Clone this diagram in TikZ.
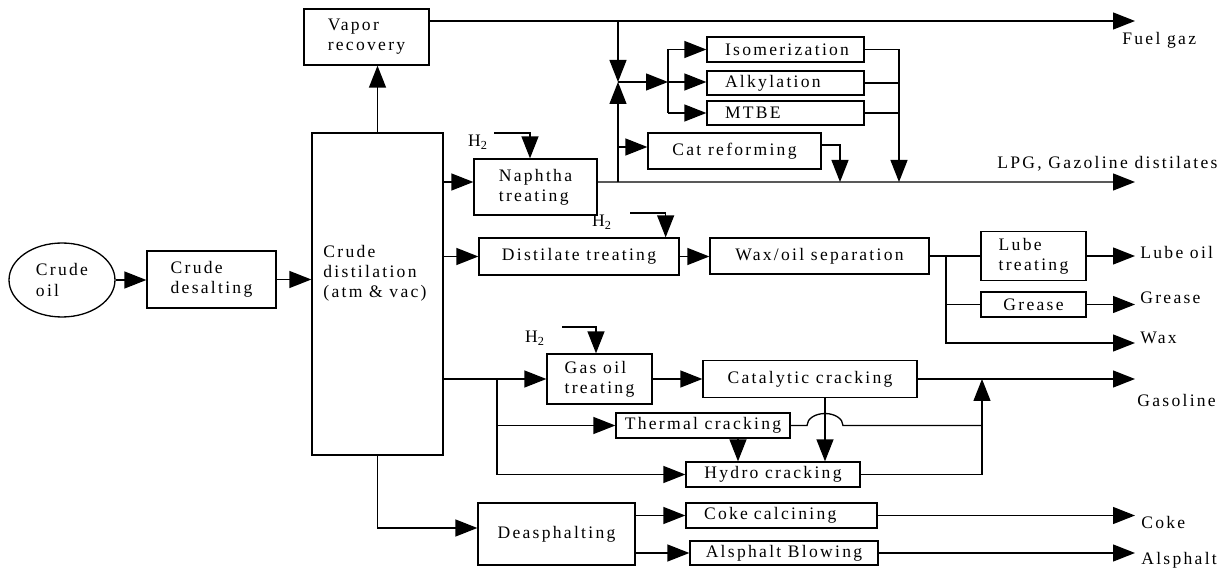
\documentclass[tikz,border=0pt]{standalone}
\usepackage{fontspec}
\setmainfont{Liberation Serif}[LetterSpace=13]
\usepackage{tikz}
\usetikzlibrary{arrows.meta}
\usetikzlibrary{shapes.geometric}
\tikzset{
  unit/.style={draw, line width=0.75pt, inner sep=0pt, align=left, font=\fontsize{10}{11.5}\selectfont},
  unitleft/.style={unit, inner xsep=0.36cm},
  flow/.style={line width=0.75pt, -{Triangle[length=0.44cm,width=0.34cm]}},
  pipe/.style={line width=0.75pt},
  product/.style={anchor=west, inner sep=0pt, font=\fontsize{10}{11.5}\selectfont},
  hlabel/.style={inner sep=0pt, align=left, font=\fontsize{10}{11.5}\selectfont},
}

\begin{document}
\begin{tikzpicture}[x=0.02cm, y=-0.02cm]
  \useasboundingbox (0,0) rectangle (1231,570);

  % units
  \node[unit, ellipse, minimum width=2.12cm, minimum height=1.48cm] (oil) at (62,280) {Crude\\oil};
  \node[unit, minimum width=2.58cm, minimum height=1.14cm] (desalt) at (211.5,279.5) {Crude\\desalting};
  \node[unit, minimum width=2.62cm, minimum height=6.44cm] (crude) at (377.5,294) {};
  \node[hlabel] (crudetext) at (375,273) {Crude\\distilation\\(atm \& vac)};
  \node[unit, minimum width=2.5cm, minimum height=1.12cm] (vapor) at (366.5,37) {Vapor\\recovery};
  \node[unit, minimum width=2.46cm, minimum height=1.12cm] (naphtha) at (535.5,187) {Naphtha\\treating};
  \node[unitleft, text width=2.42cm, minimum height=0.5cm] (iso) at (785.5,49.5) {Isomerization};
  \node[unitleft, text width=2.42cm, minimum height=0.48cm] (alky) at (785.5,83) {Alkylation};
  \node[unitleft, text width=2.42cm, minimum height=0.48cm] (mtbe) at (785.5,113) {MTBE};
  \node[unit, minimum width=3.46cm, minimum height=0.72cm] (reform) at (734.5,151) {Cat reforming};
  \node[unit, minimum width=4cm, minimum height=0.74cm] (distil) at (579,256.5) {Distilate treating};
  \node[unit, minimum width=4.38cm, minimum height=0.72cm] (wax) at (819.5,256) {Wax/oil separation};
  \node[unit, minimum width=2.1cm, minimum height=0.98cm] (lube) at (1033.5,256) {Lube\\treating};
  \node[unit, minimum width=2.1cm, minimum height=0.5cm] (grease) at (1033.5,304.5) {Grease};
  \node[unit, minimum width=2.1cm, minimum height=1cm] (gasoil) at (599.5,379) {Gas oil\\treating};
  \node[unit, minimum width=4.28cm, minimum height=0.74cm] (cat) at (810,379) {Catalytic cracking};
  \node[unit, minimum width=3.48cm, minimum height=0.5cm] (thermal) at (703,425.5) {Thermal cracking};
  \node[unit, minimum width=3.48cm, minimum height=0.5cm] (hydro) at (773,474.5) {Hydro cracking};
  \node[unit, minimum width=3.14cm, minimum height=1.24cm] (deasph) at (556.5,534) {Deasphalting};
  \node[unitleft, text width=3.1cm, minimum height=0.5cm] (coke) at (781.5,515.5) {Coke calcining};
  \node[unit, minimum width=3.76cm, minimum height=0.48cm] (asphalt) at (784,553) {Alsphalt Blowing};

  % hydrogen feeds
  \node[hlabel] (h2a) at (478,142) {H\textsubscript{2}};
  \node[hlabel] (h2b) at (602,222) {H\textsubscript{2}};
  \node[hlabel] (h2c) at (535,338) {H\textsubscript{2}};
  \coordinate (h2a0) at (494,133);
  \coordinate (h2b0) at (630,213);
  \coordinate (h2c0) at (562,327);

  % products
  \node[product] (fuel) at (1122,40) {Fuel gaz};
  \node[product] (lpg) at (997,164) {LPG, Gazoline distilates};
  \node[product] (lubeoil) at (1140,252) {Lube oil};
  \node[product] (greaseout) at (1140,298) {Grease};
  \node[product] (waxout) at (1140,338) {Wax};
  \node[product] (gasoline) at (1137,400) {Gasoline};
  \node[product] (cokeout) at (1141,522) {Coke};
  \node[product] (asphaltout) at (1141,560) {Alsphalt};

  \coordinate (fuelend) at (1135,21);
  \coordinate (vtop) at (618,21);
  \coordinate (valve) at (618,82);
  \coordinate (split) at (668,82);
  \coordinate (vbot) at (618,182);
  \coordinate (rjoin) at (840,182);
  \coordinate (ajoin) at (899,182);
  \coordinate (lpgend) at (1135,182);
  \coordinate (wsplit) at (946,256);
  \coordinate (waxend) at (1135,343);
  \coordinate (gsplit) at (497,379);
  \coordinate (gjoin) at (982,379);
  \coordinate (gasend) at (1135,379);
  \coordinate (catdrop) at ([xshift=0.3cm]cat.south);
  \coordinate (cokeend) at (1135,515.5);
  \coordinate (asphaltend) at (1135,553);

  % feed and distillation
  \draw[flow] (oil.east) -- (oil.east -| desalt.west);
  \draw[flow] (desalt.east) -- (desalt.east -| crude.west);
  \draw[flow] (crude.north) -- (crude.north |- vapor.south);
  \draw[flow] (vapor.east |- fuelend) -- (fuelend);

  % light ends
  \draw[flow] ([yshift=0.1cm]naphtha.west -| crude.east) -- ([yshift=0.1cm]naphtha.west);
  \draw[flow] ([yshift=0.1cm]naphtha.east) -- (lpgend);
  \draw[flow] (h2a0) -| ([xshift=-0.11cm]naphtha.north);
  \draw[flow] (vtop) -- (valve);
  \draw[flow] (vbot) -- (valve);
  \draw[flow] (valve) -- (split);
  \draw[pipe] (split |- iso) -- (split |- mtbe);
  \draw[flow] (split |- iso) -- (iso.west);
  \draw[flow] (split) -- (split -| alky.west);
  \draw[flow] (split |- mtbe) -- (mtbe.west);
  \draw[flow] ([yshift=0.08cm]reform.west -| vbot) -- ([yshift=0.08cm]reform.west);
  \draw[flow] ([yshift=0.12cm]reform.east) -| (rjoin);
  \draw[flow] (iso.east) -| (ajoin);
  \draw[pipe] (alky.east) -- (alky.east -| ajoin);
  \draw[pipe] (mtbe.east) -- (mtbe.east -| ajoin);

  % distilates
  \draw[flow] (crude.east |- distil) -- (distil.west);
  \draw[flow] (h2b0) -| ([xshift=-0.28cm]distil.north east);
  \draw[flow] (distil.east) -- (distil.east -| wax.west);
  \draw[pipe] (wax.east) -- (wax.east -| lube.west);
  \draw[pipe] (wsplit) |- (grease.west);
  \draw[flow] (wsplit) |- (waxend);
  \draw[flow] (lube.east) -- (lube.east -| waxend);
  \draw[flow] (grease.east) -- (grease.east -| waxend);

  % gas oil
  \draw[flow] (crude.east |- gasoil) -- (gasoil.west);
  \draw[flow] (h2c0) -| ([xshift=-0.07cm]gasoil.north);
  \draw[flow] (gsplit |- thermal) -- (thermal.west);
  \draw[flow] (gsplit) |- (hydro.west);
  \draw[flow] (gasoil.east) -- (gasoil.east -| cat.west);
  \draw[flow] (cat.east) -- (gasend);
  \draw[flow] (catdrop) -- (catdrop |- hydro.north);
  \draw[flow] ([xshift=0.7cm]thermal.south) -- ([xshift=0.7cm]thermal.south |- hydro.north);
  \draw[pipe] (thermal.east) -- ([xshift=-0.36cm]catdrop |- thermal.east)
    arc[start angle=180, end angle=0, x radius=0.36cm, y radius=0.24cm] -- (thermal.east -| gjoin);
  \draw[flow] (hydro.east) -| (gjoin);

  % residue
  \draw[flow] (crude.south) |- ([yshift=0.12cm]deasph.west);
  \draw[flow] (deasph.east |- coke) -- (coke.west);
  \draw[flow] (deasph.east |- asphalt) -- (asphalt.west);
  \draw[flow] (coke.east) -- (cokeend);
  \draw[flow] (asphalt.east) -- (asphaltend);
\end{tikzpicture}
\end{document}
